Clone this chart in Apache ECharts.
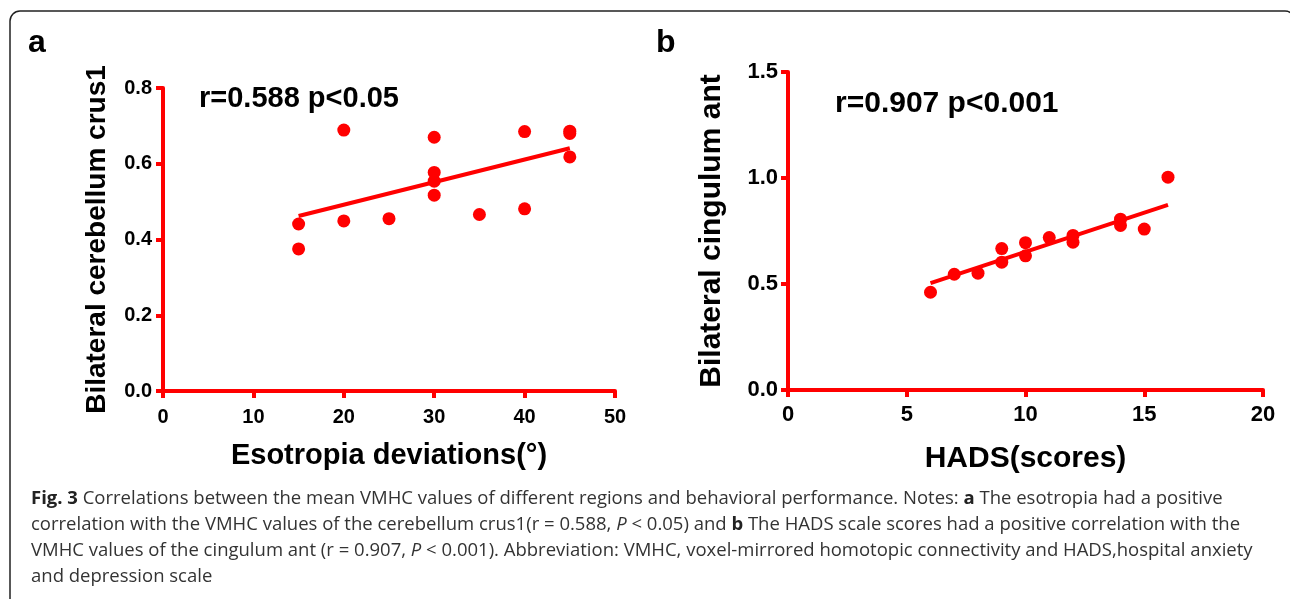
<!DOCTYPE html>
<html>
<head>
<meta charset="utf-8">
<script src="https://cdn.jsdelivr.net/npm/echarts@6/dist/echarts.min.js"></script>
<style>
html,body{margin:0;padding:0;background:#fff;}
#c{width:1290px;height:599px;}
</style>
</head>
<body>
<div id="c"></div>
<script>
// Panel a: esotropia deviations vs VMHC (cerebellum crus1)
const aX = [15, 15, 20, 20, 25, 30, 30, 30, 30, 35, 40, 40, 45, 45, 45];
const aY = [0.441, 0.375, 0.689, 0.449, 0.455, 0.670, 0.577, 0.554, 0.517, 0.466, 0.685, 0.481, 0.686, 0.680, 0.618];
const aFitX = [15, 45];
const aFitY = [0.462, 0.641];
const aXTicks = [0, 10, 20, 30, 40, 50];
const aYTicks = [0.0, 0.2, 0.4, 0.6, 0.8];

// Panel b: HADS scores vs VMHC (cingulum ant)
const bX = [6, 7, 8, 9, 9, 10, 10, 11, 12, 12, 14, 14, 15, 16];
const bY = [0.461, 0.546, 0.551, 0.667, 0.603, 0.695, 0.633, 0.719, 0.729, 0.697, 0.806, 0.776, 0.759, 1.004];
const bFitX = [6, 16];
const bFitY = [0.504, 0.873];
const bXTicks = [0, 5, 10, 15, 20];
const bYTicks = [0.0, 0.5, 1.0, 1.5];

const captionLines = [
  '{b|Fig. 3} Correlations between the mean VMHC values of different regions and behavioral performance. Notes: {b|a} The esotropia had a positive',
  'correlation with the VMHC values of the cerebellum crus1(r = 0.588, {i|P} < 0.05) and {b|b} The HADS scale scores had a positive correlation with the',
  'VMHC values of the cingulum ant (r = 0.907, {i|P} < 0.001). Abbreviation: VMHC, voxel-mirrored homotopic connectivity and HADS,hospital anxiety',
  'and depression scale'
];

const RED = '#ff0000';
const FONT = 'Liberation Sans';
const zip = (xs, ys) => xs.map((x, i) => [x, ys[i]]);

function makeAxis(gridIndex, ticks, dec, labelSize, margin, name, nameSize, nameGap, isY) {
  const step = ticks[1] - ticks[0];
  return {
    type: 'value', gridIndex,
    min: ticks[0], max: ticks[ticks.length - 1], interval: step,
    name, nameLocation: 'middle', nameGap, nameRotate: isY ? 90 : 0,
    nameTextStyle: { fontFamily: FONT, fontWeight: 'bold', fontSize: nameSize, color: '#000' },
    axisLine: { show: true, onZero: false, lineStyle: { color: RED, width: 4 } },
    axisTick: { show: true, inside: false, length: 7, lineStyle: { color: RED, width: 4 } },
    axisLabel: {
      margin, fontFamily: FONT, fontWeight: 'bold', fontSize: labelSize, color: '#000',
      formatter: v => v.toFixed(dec)
    },
    splitLine: { show: false }
  };
}

const chart = echarts.init(document.getElementById('c'), null, { renderer: 'canvas' });

const CAP = 18.5;
const graphics = [
  { type: 'rect', shape: { x: 10, y: 11, width: 1285, height: 620, r: 10 },
    style: { fill: 'none', stroke: '#222', lineWidth: 1.5 }, z: 0 },
  { type: 'text', x: 28, y: 43, style: { text: 'a', fontFamily: FONT, fontWeight: 'bold', fontSize: 32, fill: '#000', textVerticalAlign: 'middle' } },
  { type: 'text', x: 656, y: 43, style: { text: 'b', fontFamily: FONT, fontWeight: 'bold', fontSize: 32, fill: '#000', textVerticalAlign: 'middle' } },
  { type: 'text', x: 199, y: 99, style: { text: 'r=0.588 p<0.05', fontFamily: FONT, fontWeight: 'bold', fontSize: 29, fill: '#000', textVerticalAlign: 'middle' } },
  { type: 'text', x: 835, y: 104, style: { text: 'r=0.907 p<0.001', fontFamily: FONT, fontWeight: 'bold', fontSize: 30, fill: '#000', textVerticalAlign: 'middle' } }
];
captionLines.forEach((t, i) => {
  graphics.push({
    type: 'text', x: 31, y: 499 + i * 26,
    style: {
      text: t, fontFamily: 'Open Sans', fontSize: CAP, fill: '#333', textVerticalAlign: 'middle',
      rich: {
        b: { fontFamily: 'Open Sans', fontWeight: 'bold', fontSize: CAP, fill: '#222' },
        i: { fontFamily: 'Open Sans', fontStyle: 'italic', fontSize: CAP, fill: '#333' }
      }
    }
  });
});

chart.setOption({
  animation: false,
  backgroundColor: '#fff',
  grid: [
    { left: 163, top: 88, width: 452, height: 303 },
    { left: 788, top: 72, width: 475, height: 318 }
  ],
  xAxis: [
    makeAxis(0, aXTicks, 0, 20, 16, 'Esotropia deviations(°)', 29, 50, false),
    makeAxis(1, bXTicks, 0, 22, 14, 'HADS(scores)', 30, 54, false)
  ],
  yAxis: [
    makeAxis(0, aYTicks, 1, 20, 11, 'Bilateral cerebellum crus1', 28, 52, true),
    makeAxis(1, bYTicks, 1, 22, 10, 'Bilateral cingulum ant', 30, 61, true)
  ],
  series: [
    { type: 'scatter', xAxisIndex: 0, yAxisIndex: 0, data: zip(aX, aY), symbolSize: 13, itemStyle: { color: RED, opacity: 1 } },
    { type: 'line', xAxisIndex: 0, yAxisIndex: 0, data: zip(aFitX, aFitY), symbol: 'none', lineStyle: { color: RED, width: 4 } },
    { type: 'scatter', xAxisIndex: 1, yAxisIndex: 1, data: zip(bX, bY), symbolSize: 13, itemStyle: { color: RED, opacity: 1 } },
    { type: 'line', xAxisIndex: 1, yAxisIndex: 1, data: zip(bFitX, bFitY), symbol: 'none', lineStyle: { color: RED, width: 4 } }
  ],
  graphic: graphics
});
</script>
</body>
</html>
